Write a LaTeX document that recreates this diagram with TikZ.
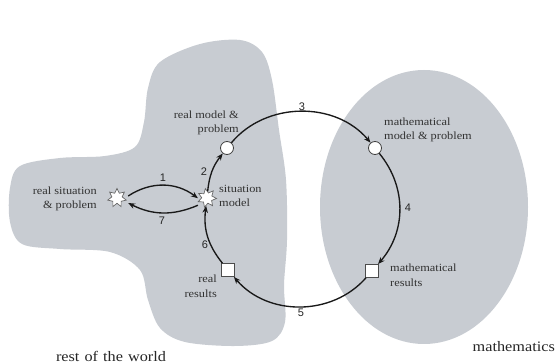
\documentclass[tikz,border=0pt]{standalone}
\usepackage{fontspec}
\setmainfont{Liberation Serif}[FakeStretch=1.12]
\newfontfamily\numfont{Liberation Sans}
\usetikzlibrary{shapes.geometric,arrows.meta}
\definecolor{blobgray}{RGB}{200,204,210}
\definecolor{txtgray}{RGB}{50,50,50}
\begin{document}
\begin{tikzpicture}[x=1pt,y=1pt,
  lbl/.style={font=\fontsize{11}{14.5}\selectfont, text=txtgray, inner sep=0pt},
  num/.style={font=\numfont\fontsize{11}{12}\selectfont, text=black!85, inner sep=0pt},
  starnode/.style={star, star points=7, star point ratio=1.8, minimum size=19pt, inner sep=0pt, draw=black!60, fill=white, line width=0.7pt},
  circnode/.style={circle, minimum size=13pt, inner sep=0pt, draw=black!75, fill=white, line width=0.8pt},
  sqnode/.style={rectangle, minimum size=13pt, inner sep=0pt, draw=black!70, fill=white, line width=0.8pt},
  arr/.style={-{Stealth[length=7pt,width=5.5pt]}, line width=1.35pt, black!90},
  big/.style={font=\fontsize{14.5}{16}\selectfont, text=black!85, inner sep=0pt}]
\useasboundingbox (0,0) rectangle (555,364);
\fill[white] (0,0) rectangle (555,364);
% rest of the world region
\fill[blobgray] plot[smooth cycle, tension=0.55] coordinates {(160,302) (200,320) (240,324) (262,312) (272,284) (279,234) (286,184) (287,124) (284,79) (285,42) (272,23) (235,18) (185,22) (160,36) (148,64) (140,94) (110,112) (60,115) (22,120) (10,142) (10,176) (20,198) (60,206) (105,208) (135,217) (144,242) (148,276)};
% mathematics region
\fill[blobgray] (424,157) ellipse [x radius=104, y radius=137];
% nodes
\node[starnode] (rs) at (117,166) {};
\node[starnode, rotate=10] (sm) at (207,166) {};
\node[circnode] (rm) at (227,216) {};
\node[circnode] (mm) at (375,216) {};
\node[sqnode] (mr) at (372,93) {};
\node[sqnode] (rr) at (228,94) {};
% arrows
\draw[arr] (rm) to[bend left=50] (mm);
\draw[arr] (mm) to[bend left=40] (mr);
\draw[arr] (mr) to[bend left=49] (rr);
\draw[arr] (rr) to[bend left=23] (sm);
\draw[arr] (sm) to[bend left=16] (rm);
\draw[arr] ([xshift=4pt,yshift=2pt]rs.east) to[bend left=35] ([xshift=-2pt,yshift=1pt]sm.west);
\draw[arr] ([xshift=-2pt,yshift=-6pt]sm.west) to[bend left=25] ([xshift=4pt,yshift=-5pt]rs.east);
% labels
\node[lbl, align=right, anchor=east] (lrm) at (239,241) {real model \&\\problem};
\node[lbl, align=left, anchor=west] (lmm) at (384,234) {mathematical\\model \& problem};
\node[lbl, align=left, anchor=west] (lsm) at (219,168) {situation\\model};
\node[lbl, align=right, anchor=east] (lrs) at (97,165) {real situation\\\& problem};
\node[lbl, align=right, anchor=east] (lrr) at (217,78) {real\\results};
\node[lbl, align=left, anchor=west] (lmr) at (390,89) {mathematical\\results};
\node[big] (world) at (111,8) {rest\hspace{1pt} of\hspace{1pt} the\hspace{1pt} world};
\node[big, anchor=east] (maths) at (555,17) {mathematics};
% numbers
\node[num] (n1) at (163,186) {1};
\node[num] (n2) at (204,192) {2};
\node[num] (n3) at (302,257) {3};
\node[num] (n4) at (408,156) {4};
\node[num] (n5) at (301,51) {5};
\node[num] (n6) at (205,119) {6};
\node[num] (n7) at (162,143) {7};
\end{tikzpicture}
\end{document}
